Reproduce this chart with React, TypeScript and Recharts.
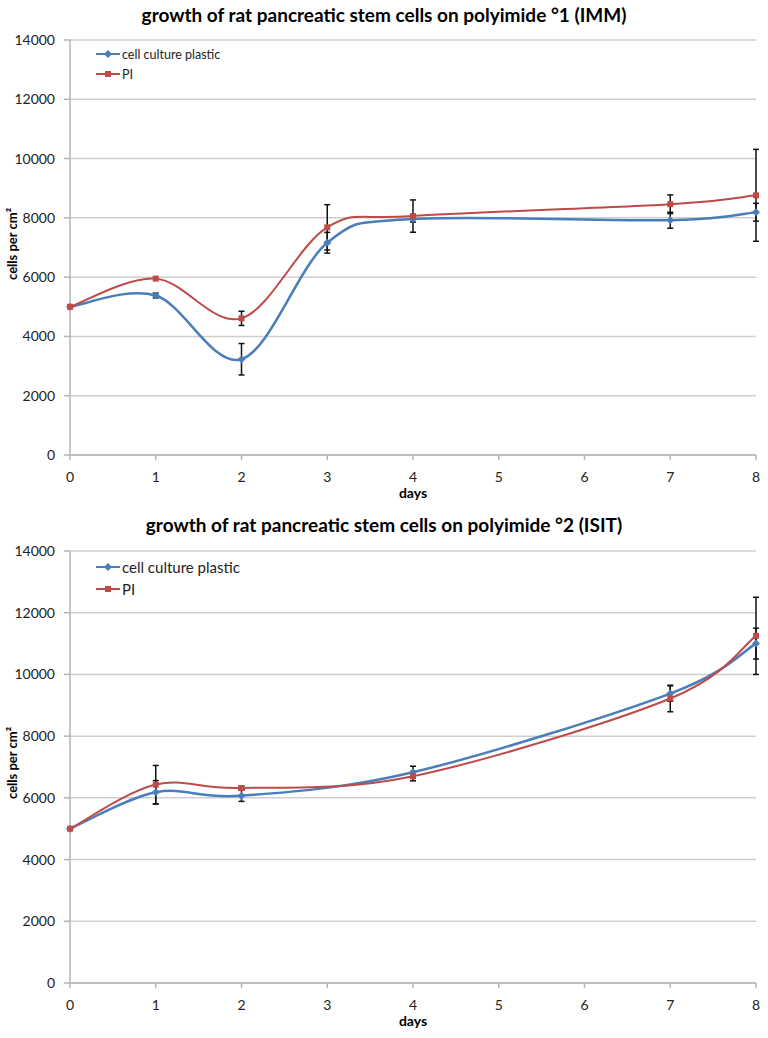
import React from 'react'
import { LineChart, Line, XAxis, YAxis, CartesianGrid, ErrorBar } from 'recharts'

const BLUE = '#4a7ebb'
const RED = '#be4b48'
const FONT = 'Lato, "Open Sans", sans-serif'

const xTicks = [0, 1, 2, 3, 4, 5, 6, 7, 8]
const yTicks = [0, 2000, 4000, 6000, 8000, 10000, 12000, 14000]

// chart 1: polyimide °1 (IMM)
const days1 = [0, 1, 2, 3, 4, 7, 8]
const plastic1 = [5000, 5380, 3230, 7160, 7960, 7920, 8190]
const plastic1Err = [0, 80, 530, 350, 100, 270, 300]
const pi1 = [5000, 5950, 4610, 7680, 8060, 8460, 8760]
const pi1Err = [0, 0, 240, 765, 545, 315, 1550]

// chart 2: polyimide °2 (ISIT)
const days2 = [0, 1, 2, 4, 7, 8]
const plastic2 = [5000, 6180, 6070, 6830, 9380, 11000]
const plastic2Err = [0, 380, 185, 195, 250, 500]
const pi2 = [5000, 6430, 6320, 6700, 9220, 11250]
const pi2Err = [0, 620, 60, 150, 430, 1250]

const rows = (days: number[], a: number[], aErr: number[], b: number[], bErr: number[]) =>
  days.map((day, i) => ({ day, plastic: a[i], plasticErr: aErr[i], pi: b[i], piErr: bErr[i] }))

// Excel-style smoothed line (Catmull-Rom as bezier)
function smoothCurve(context: any) {
  let pts: number[][] = []
  return {
    areaStart() {},
    areaEnd() {},
    lineStart() {
      pts = []
    },
    point(x: number, y: number) {
      pts.push([+x, +y])
    },
    lineEnd() {
      const n = pts.length
      if (!n) return
      context.moveTo(pts[0][0], pts[0][1])
      for (let i = 0; i < n - 1; i++) {
        const p0 = pts[i - 1] || pts[i]
        const p1 = pts[i]
        const p2 = pts[i + 1]
        const p3 = pts[i + 2] || p2
        context.bezierCurveTo(
          p1[0] + (p2[0] - p0[0]) / 6,
          p1[1] + (p2[1] - p0[1]) / 6,
          p2[0] - (p3[0] - p1[0]) / 6,
          p2[1] - (p3[1] - p1[1]) / 6,
          p2[0],
          p2[1],
        )
      }
    },
  }
}

const diamondDot = (props: any) => {
  const { cx, cy, key } = props
  if (cx == null || cy == null) return <g key={key} />
  const r = 4
  return <path key={key} d={`M${cx},${cy - r}L${cx + r},${cy}L${cx},${cy + r}L${cx - r},${cy}Z`} fill={BLUE} />
}

const squareDot = (props: any) => {
  const { cx, cy, key } = props
  if (cx == null || cy == null) return <g key={key} />
  const s = 3
  return <rect key={key} x={cx - s} y={cy - s} width={s * 2} height={s * 2} fill={RED} />
}

function LegendRow({ color, shape, label, size, rowH }: any) {
  return (
    <div style={{ display: 'flex', alignItems: 'center', height: rowH }}>
      <svg width={25} height={10} style={{ marginRight: 1 }}>
        <line x1={0} y1={5} x2={24} y2={5} stroke={color} strokeWidth={2} />
        {shape === 'diamond' ? (
          <path d="M12,1L16,5L12,9L8,5Z" fill={color} />
        ) : (
          <rect x={9} y={2} width={6} height={6} fill={color} />
        )}
      </svg>
      <span style={{ fontSize: size, color: '#222' }}>{label}</span>
    </div>
  )
}

interface ChartProps {
  title: string
  data: any[]
  top: number
  height: number
  plotTop: number
  plotBottom: number
  titleY: number
  legendY: number
  legendSize: number
  legendRow: number
}

function GrowthChart({ title, data, top, height, plotTop, plotBottom, titleY, legendY, legendSize, legendRow }: ChartProps) {
  const axisH = 44
  const pTop = plotTop - top
  const pBottom = plotBottom - top
  return (
    <div style={{ position: 'absolute', left: 0, top, width: 768, height }}>
      <div
        style={{
          position: 'absolute',
          left: 0,
          width: 768,
          top: titleY - top - 12,
          textAlign: 'center',
          fontWeight: 700,
          fontSize: 19,
          lineHeight: '24px',
          color: '#000',
        }}
      >
        {title}
      </div>
      <div
        style={{
          position: 'absolute',
          left: 12,
          top: (pTop + pBottom) / 2 - 4,
          transform: 'translate(-50%, -50%) rotate(-90deg)',
          fontWeight: 700,
          fontSize: 13,
          whiteSpace: 'nowrap',
          color: '#000',
        }}
      >
        cells per cm²
      </div>
      <div style={{ position: 'absolute', left: 96, top: legendY - top - legendRow / 2, zIndex: 2 }}>
        <LegendRow color={BLUE} shape="diamond" label="cell culture plastic" size={legendSize} rowH={legendRow} />
        <LegendRow color={RED} shape="square" label="PI" size={legendSize} rowH={legendRow} />
      </div>
      <LineChart
        width={768}
        height={height}
        data={data}
        margin={{ top: pTop, right: 12, left: 0, bottom: height - pBottom - axisH }}
        style={{ fontFamily: FONT }}
      >
        <CartesianGrid vertical={false} stroke="#cfcfcf" strokeWidth={1.5} />
        <XAxis
          dataKey="day"
          type="number"
          domain={[0, 8]}
          ticks={xTicks}
          height={axisH}
          stroke="#b5b5b5"
          strokeWidth={1.5}
          tickSize={5}
          tickMargin={12}
          tick={{ fontSize: 14, fill: '#222' }}
          label={{ value: 'days', position: 'insideBottom', offset: 1, fontSize: 14, fontWeight: 700, fill: '#000' }}
        />
        <YAxis
          domain={[0, 14000]}
          ticks={yTicks}
          width={70}
          stroke="#b5b5b5"
          strokeWidth={1.5}
          tickSize={6}
          tickMargin={9}
          tick={{ fontSize: 14, fill: '#222' }}
        />
        <Line
          dataKey="plastic"
          type={smoothCurve as any}
          stroke={BLUE}
          strokeWidth={2.5}
          dot={diamondDot}
          activeDot={false}
          isAnimationActive={false}
        >
          <ErrorBar dataKey="plasticErr" direction="y" width={3} stroke="#111" strokeWidth={1.5} isAnimationActive={false} />
        </Line>
        <Line
          dataKey="pi"
          type={smoothCurve as any}
          stroke={RED}
          strokeWidth={2}
          dot={squareDot}
          activeDot={false}
          isAnimationActive={false}
        >
          <ErrorBar dataKey="piErr" direction="y" width={3} stroke="#111" strokeWidth={1.5} isAnimationActive={false} />
        </Line>
      </LineChart>
    </div>
  )
}

export default function App() {
  return (
    <div style={{ position: 'absolute', left: 0, top: 0, width: 768, height: 1038, background: '#fff', fontFamily: FONT }}>
      <GrowthChart
        title="growth of rat pancreatic stem cells on polyimide °1 (IMM)"
        data={rows(days1, plastic1, plastic1Err, pi1, pi1Err)}
        top={0}
        height={505}
        plotTop={40}
        plotBottom={455}
        titleY={15}
        legendY={54}
        legendSize={12.5}
        legendRow={20}
      />
      <GrowthChart
        title="growth of rat pancreatic stem cells on polyimide °2 (ISIT)"
        data={rows(days2, plastic2, plastic2Err, pi2, pi2Err)}
        top={510}
        height={520}
        plotTop={551}
        plotBottom={983}
        titleY={525}
        legendY={567}
        legendSize={15}
        legendRow={22}
      />
    </div>
  )
}
